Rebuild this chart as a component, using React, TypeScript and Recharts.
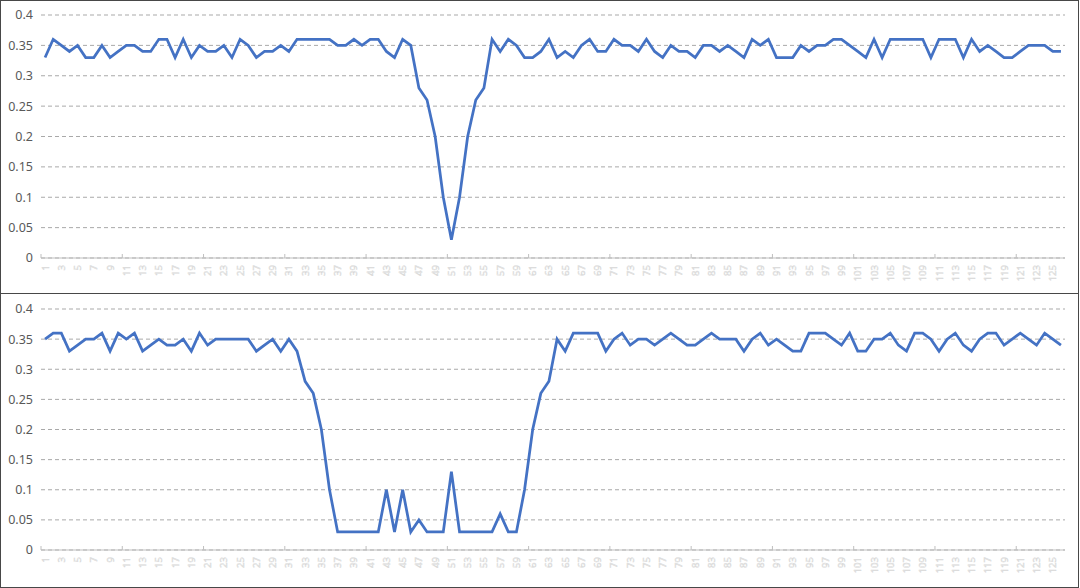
import React from 'react';
import { LineChart, Line, XAxis, YAxis, CartesianGrid } from 'recharts';

const categories: string[] = Array.from({ length: 126 }, (_, i) => String(i + 1));

const topValues: number[] = [
  0.33, 0.36, 0.35, 0.34, 0.35, 0.33, 0.33, 0.35, 0.33, 0.34,
  0.35, 0.35, 0.34, 0.34, 0.36, 0.36, 0.33, 0.36, 0.33, 0.35,
  0.34, 0.34, 0.35, 0.33, 0.36, 0.35, 0.33, 0.34, 0.34, 0.35,
  0.34, 0.36, 0.36, 0.36, 0.36, 0.36, 0.35, 0.35, 0.36, 0.35,
  0.36, 0.36, 0.34, 0.33, 0.36, 0.35, 0.28, 0.26, 0.2, 0.1,
  0.03, 0.1, 0.2, 0.26, 0.28, 0.36, 0.34, 0.36, 0.35, 0.33,
  0.33, 0.34, 0.36, 0.33, 0.34, 0.33, 0.35, 0.36, 0.34, 0.34,
  0.36, 0.35, 0.35, 0.34, 0.36, 0.34, 0.33, 0.35, 0.34, 0.34,
  0.33, 0.35, 0.35, 0.34, 0.35, 0.34, 0.33, 0.36, 0.35, 0.36,
  0.33, 0.33, 0.33, 0.35, 0.34, 0.35, 0.35, 0.36, 0.36, 0.35,
  0.34, 0.33, 0.36, 0.33, 0.36, 0.36, 0.36, 0.36, 0.36, 0.33,
  0.36, 0.36, 0.36, 0.33, 0.36, 0.34, 0.35, 0.34, 0.33, 0.33,
  0.34, 0.35, 0.35, 0.35, 0.34, 0.34,
];

const bottomValues: number[] = [
  0.35, 0.36, 0.36, 0.33, 0.34, 0.35, 0.35, 0.36, 0.33, 0.36,
  0.35, 0.36, 0.33, 0.34, 0.35, 0.34, 0.34, 0.35, 0.33, 0.36,
  0.34, 0.35, 0.35, 0.35, 0.35, 0.35, 0.33, 0.34, 0.35, 0.33,
  0.35, 0.33, 0.28, 0.26, 0.2, 0.1, 0.03, 0.03, 0.03, 0.03,
  0.03, 0.03, 0.1, 0.03, 0.1, 0.03, 0.05, 0.03, 0.03, 0.03,
  0.13, 0.03, 0.03, 0.03, 0.03, 0.03, 0.06, 0.03, 0.03, 0.1,
  0.2, 0.26, 0.28, 0.35, 0.33, 0.36, 0.36, 0.36, 0.36, 0.33,
  0.35, 0.36, 0.34, 0.35, 0.35, 0.34, 0.35, 0.36, 0.35, 0.34,
  0.34, 0.35, 0.36, 0.35, 0.35, 0.35, 0.33, 0.35, 0.36, 0.34,
  0.35, 0.34, 0.33, 0.33, 0.36, 0.36, 0.36, 0.35, 0.34, 0.36,
  0.33, 0.33, 0.35, 0.35, 0.36, 0.34, 0.33, 0.36, 0.36, 0.35,
  0.33, 0.35, 0.36, 0.34, 0.33, 0.35, 0.36, 0.36, 0.34, 0.35,
  0.36, 0.35, 0.34, 0.36, 0.35, 0.34,
];

const yTicks: number[] = [0, 0.05, 0.1, 0.15, 0.2, 0.25, 0.3, 0.35, 0.4];

const topData = categories.map((c, i) => ({ name: c, value: topValues[i] }));
const bottomData = categories.map((c, i) => ({ name: c, value: bottomValues[i] }));

const CHART_W = 1080;
const MARGIN_L = 1;
const MARGIN_R = 15;
const Y_W = 40;
const PLOT_W = CHART_W - MARGIN_L - MARGIN_R - Y_W;
const BAND = PLOT_W / categories.length;
const AXIS_COLOR = '#bfbfbf';
const GRID_COLOR = '#a9a9a9';
const FONT = '"Noto Sans", "DejaVu Sans", sans-serif';

const XTick = (props: any) => {
  const { x, y, payload } = props;
  const n = Number(payload.value);
  const half = BAND / 2;
  return (
    <g>
      {n % 2 === 1 && (
        <text
          transform={`translate(${x},${y + 7}) rotate(-90)`}
          textAnchor="end"
          dominantBaseline="central"
          fontSize={9.5}
          fontFamily={FONT}
          fill="#ffffff"
          stroke="#d6d6d6"
          strokeWidth={0.5}
        >
          {payload.value}
        </text>
      )}
      {n === 1 && <line x1={x - half} x2={x - half} y1={y} y2={y - 4} stroke={AXIS_COLOR} strokeWidth={1} />}
      {n % 10 === 0 && <line x1={x + half} x2={x + half} y1={y} y2={y - 4} stroke={AXIS_COLOR} strokeWidth={1} />}
    </g>
  );
};

const Panel = ({ data, height, xHeight }: { data: any[]; height: number; xHeight: number }) => (
  <LineChart
    width={CHART_W}
    height={height}
    data={data}
    margin={{ top: 15, right: MARGIN_R, bottom: 0, left: MARGIN_L }}
  >
    <CartesianGrid vertical={false} stroke={GRID_COLOR} strokeDasharray="4 3" />
    <XAxis
      dataKey="name"
      interval={0}
      padding={{ left: BAND / 2, right: BAND / 2 }}
      height={xHeight}
      tickSize={0}
      tickMargin={0}
      tickLine={false}
      axisLine={{ stroke: AXIS_COLOR, strokeWidth: 1 }}
      tick={<XTick />}
    />
    <YAxis
      domain={[0, 0.4]}
      ticks={yTicks}
      width={Y_W}
      axisLine={false}
      tickLine={false}
      tick={{ fontSize: 12.5, fill: '#595959', fontFamily: FONT }}
    />
    <Line
      type="linear"
      dataKey="value"
      stroke="#4472C4"
      strokeWidth={2.75}
      dot={false}
      isAnimationActive={false}
    />
  </LineChart>
);

export default function App() {
  return (
    <div style={{ position: 'absolute', left: 0, top: 0, width: 1080, height: 588, background: '#ffffff', overflow: 'hidden' }}>
      <div style={{ position: 'absolute', left: 0, top: 0 }}>
        <Panel data={topData} height={292} xHeight={34} />
      </div>
      <div style={{ position: 'absolute', left: 0, top: 294 }}>
        <Panel data={bottomData} height={291} xHeight={35} />
      </div>
      <div style={{ position: 'absolute', left: 0, top: 0, width: 1079, height: 294, boxSizing: 'border-box', border: '1.5px solid #484848', pointerEvents: 'none' }} />
      <div style={{ position: 'absolute', left: 0, top: 292.5, width: 1079, height: 295, boxSizing: 'border-box', border: '1.5px solid #484848', pointerEvents: 'none' }} />
    </div>
  );
}
